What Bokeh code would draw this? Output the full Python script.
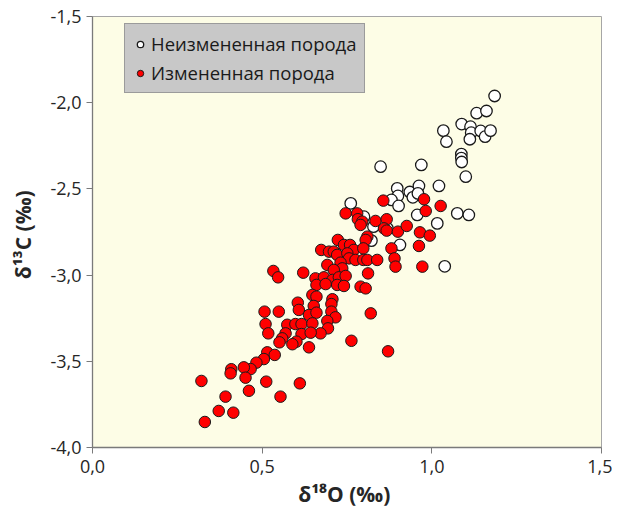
from bokeh.plotting import figure
from bokeh.models import Range1d, FixedTicker, Legend, LegendItem, ColumnDataSource
from bokeh.embed import file_html
from bokeh.resources import INLINE

# Unaltered rock (white markers)
unaltered_d18O = [1.185, 1.132, 1.161, 1.034, 1.088, 1.114, 1.116, 1.112, 1.144, 1.157,
                  1.173, 1.043, 1.087, 1.087, 1.088, 1.100, 0.969, 0.849, 1.021, 0.898,
                  0.935, 0.962, 0.900, 0.944, 0.959, 0.881, 0.902, 0.957, 1.075, 1.109,
                  1.016, 1.038, 0.906, 0.869, 0.828, 0.822, 0.800, 0.761]
unaltered_d13C = [-1.961, -2.061, -2.048, -2.162, -2.124, -2.139, -2.174, -2.212, -2.164, -2.197,
                  -2.162, -2.226, -2.298, -2.321, -2.344, -2.429, -2.361, -2.371, -2.483, -2.497,
                  -2.518, -2.483, -2.541, -2.549, -2.526, -2.564, -2.599, -2.651, -2.642, -2.651,
                  -2.700, -2.949, -2.825, -2.729, -2.719, -2.800, -2.661, -2.584]

# Altered rock (red markers)
altered_d18O = [0.510, 0.518, 0.574, 0.569, 0.559, 0.551, 0.598, 0.616, 0.616, 0.601,
                0.589, 0.515, 0.537, 0.505, 0.483, 0.466, 0.446, 0.409, 0.407, 0.451,
                0.321, 0.512, 0.611, 0.461, 0.392, 0.554, 0.372, 0.415, 0.331,
                0.533, 0.547, 0.605, 0.608, 0.507, 0.549,
                0.857, 0.746, 0.780, 0.782, 0.795, 0.790, 0.834, 0.867, 0.859, 0.867,
                0.900, 0.810, 0.805, 0.723, 0.741, 0.759, 0.770, 0.798, 0.674, 0.697,
                0.711, 0.721, 0.751, 0.756, 0.775, 0.798, 0.810, 0.839, 0.881, 0.890,
                0.893, 0.692, 0.731, 0.736, 0.711, 0.621, 0.657, 0.682, 0.707, 0.726,
                0.746, 0.812, 0.660, 0.687, 0.721, 0.741, 0.790, 0.805,
                0.977, 1.026, 0.982, 0.926, 0.965, 0.994, 0.962, 0.972,
                0.648, 0.660, 0.707, 0.704, 0.652, 0.638, 0.660, 0.704, 0.716, 0.692,
                0.648, 0.694, 0.672, 0.643, 0.820, 0.763, 0.638, 0.871]
altered_d13C = [-3.284, -3.338, -3.288, -3.338, -3.367, -3.390, -3.284, -3.284, -3.342, -3.386,
                -3.401, -3.448, -3.463, -3.487, -3.508, -3.545, -3.535, -3.546, -3.570, -3.595,
                -3.614, -3.618, -3.628, -3.671, -3.705, -3.705, -3.788, -3.798, -3.852,
                -2.976, -3.013, -3.160, -3.202, -3.212, -3.212,
                -2.568, -2.642, -2.642, -2.676, -2.690, -2.709, -2.686, -2.676, -2.729, -2.742,
                -2.748, -2.777, -2.796, -2.796, -2.825, -2.825, -2.854, -2.845, -2.854, -2.864,
                -2.864, -2.883, -2.874, -2.903, -2.912, -2.912, -2.912, -2.912, -2.845, -2.903,
                -2.951, -2.941, -2.928, -2.961, -2.970, -2.986, -3.019, -3.013, -3.028, -3.013,
                -3.005, -2.990, -3.057, -3.052, -3.057, -3.063, -3.067, -3.077,
                -2.560, -2.599, -2.628, -2.715, -2.752, -2.771, -2.831, -2.951,
                -3.115, -3.125, -3.140, -3.168, -3.179, -3.231, -3.218, -3.212, -3.245, -3.266,
                -3.280, -3.309, -3.338, -3.334, -3.222, -3.381, -3.419, -3.442]

series_labels = ["Неизмененная порода", "Измененная порода"]
x_ticks = [0.0, 0.5, 1.0, 1.5]
x_tick_labels = ["0,0", "0,5", "1,0", "1,5"]
y_ticks = [-4.0, -3.5, -3.0, -2.5, -2.0, -1.5]
y_tick_labels = ["-4,0", "-3,5", "-3,0", "-2,5", "-2,0", "-1,5"]
x_title = "δ¹⁸O  (‰)"
y_title = "δ¹³C  (‰)"

FONT = "Open Sans"

p = figure(width=612, height=513, output_backend="svg", toolbar_location=None,
           x_range=Range1d(0, 1.5), y_range=Range1d(-4.0, -1.5),
           min_border_left=92, min_border_right=11, min_border_top=16, min_border_bottom=66)

p.background_fill_color = "#FDFDE6"
p.border_fill_color = "white"
p.outline_line_color = "#a6a6a6"
p.outline_line_width = 1
p.xgrid.visible = False
p.ygrid.visible = False

src_u = ColumnDataSource(dict(x=unaltered_d18O, y=unaltered_d13C))
src_a = ColumnDataSource(dict(x=altered_d18O, y=altered_d13C))

r_u = p.scatter("x", "y", source=src_u, size=11.5, marker="circle",
                fill_color="white", line_color="#1a1a1a", line_width=1.3)
r_a = p.scatter("x", "y", source=src_a, size=11.5, marker="circle",
                fill_color="#FF0000", line_color="#1a1a1a", line_width=1.0)

for ax, ticks, labels in ((p.xaxis, x_ticks, x_tick_labels), (p.yaxis, y_ticks, y_tick_labels)):
    ax.ticker = FixedTicker(ticks=ticks)
    ax.major_label_overrides = dict(zip(ticks, labels))
    ax.minor_tick_line_color = None
    ax.major_tick_in = 0
    ax.major_tick_out = 6
    ax.major_tick_line_color = "#7a7a7a"
    ax.axis_line_color = "#7a7a7a"
    ax.axis_line_width = 1.3
    ax.major_label_text_font = FONT
    ax.major_label_text_font_size = "18px"
    ax.major_label_text_color = "#262626"
    ax.axis_label_text_font = FONT
    ax.axis_label_text_font_size = "21px"
    ax.axis_label_text_font_style = "bold"
    ax.axis_label_text_color = "#262626"

p.xaxis.axis_label = x_title
p.yaxis.axis_label = y_title
p.xaxis.major_label_standoff = 6
p.yaxis.major_label_standoff = 5
p.xaxis.axis_label_standoff = 4
p.yaxis.axis_label_standoff = 10

legend = Legend(items=[LegendItem(label=series_labels[0], renderers=[r_u]),
                       LegendItem(label=series_labels[1], renderers=[r_a])],
                location=(32, 354))
legend.label_text_font = FONT
legend.label_text_font_size = "18.5px"
legend.label_text_color = "#1a1a1a"
legend.glyph_width = 16
legend.glyph_height = 22
legend.label_height = 22
legend.label_standoff = 3
legend.padding = 7
legend.spacing = 4
legend.margin = 0
legend.background_fill_color = "#c8c8c8"
legend.background_fill_alpha = 1.0
legend.border_line_color = "#6e6e6e"
legend.border_line_width = 1
p.add_layout(legend, "center")

open("out.html", "w").write(file_html(p, INLINE))
